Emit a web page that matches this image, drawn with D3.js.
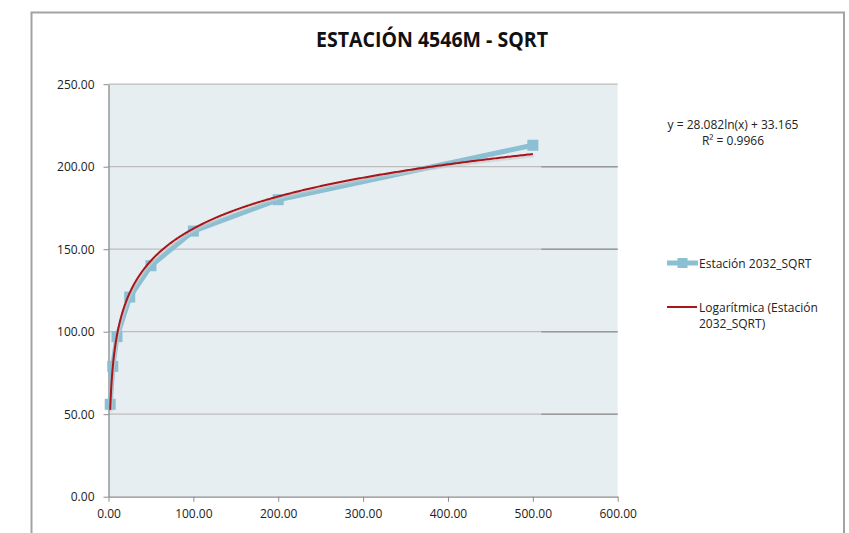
<!DOCTYPE html>
<html><head><meta charset="utf-8">
<script src="https://cdn.jsdelivr.net/npm/d3@7"></script>
<style>body{margin:0;background:#fff}svg{display:block}</style>
</head><body>
<script>
const xValues = [2, 5, 10, 25, 50, 100, 200, 500];
const yValues = [56, 79, 97, 121, 140, 161, 180, 213];
const xTicks = [0, 100, 200, 300, 400, 500, 600];
const yTicks = [0, 50, 100, 150, 200, 250];
const trendA = 28.082, trendB = 33.165;
const titleText = "ESTACIÓN 4546M - SQRT";
const eqText = "y = 28.082ln(x) + 33.165";
const r2Text = "R² = 0.9966";
const seriesName = "Estación 2032_SQRT";
const trendName = ["Logarítmica (Estación", "2032_SQRT)"];

const W = 849, H = 533;
const font = "'Open Sans',Arial,sans-serif";
const svg = d3.select("body").append("svg").attr("width", W).attr("height", H);

svg.append("rect").attr("x", 31.5).attr("y", 12.5).attr("width", 812.5).attr("height", 540)
  .attr("fill", "#fff").attr("stroke", "#a3a3a3").attr("stroke-width", 2);

const x = d3.scaleLinear().domain([0, 600]).range([108.5, 617.7]);
const y = d3.scaleLinear().domain([0, 250]).range([496.7, 84.2]);

svg.append("rect").attr("x", x(0)).attr("y", y(250)).attr("width", x(600) - x(0)).attr("height", y(0) - y(250))
  .attr("fill", "#e6eef2");

// gridlines
svg.append("g").selectAll("line").data(yTicks.filter(d => d > 0)).join("line")
  .attr("x1", x(0)).attr("x2", x(600)).attr("y1", d => y(d)).attr("y2", d => y(d))
  .attr("stroke", "#bdbdbd").attr("stroke-width", 1.2);
svg.append("g").selectAll("line").data(yTicks.filter(d => d > 0 && d < 250)).join("line")
  .attr("x1", x(510)).attr("x2", x(600)).attr("y1", d => y(d)).attr("y2", d => y(d))
  .attr("stroke", "#9a9a9a").attr("stroke-width", 1.4);

// axes
const xAxis = d3.axisBottom(x).tickValues(xTicks).tickFormat(d3.format(".2f")).tickSize(5).tickSizeOuter(0);
const gx = svg.append("g").attr("transform", `translate(0,${y(0)})`).call(xAxis);
gx.select(".domain").attr("stroke", "#8c8c8c").attr("stroke-width", 1.3);
gx.selectAll(".tick line").attr("stroke", "#8c8c8c");
gx.selectAll("text").attr("font-family", font).attr("font-size", 12).attr("fill", "#222").attr("dy", "1.15em");

const yAxis = d3.axisLeft(y).tickValues(yTicks).tickFormat(d3.format(".2f")).tickSize(5).tickSizeOuter(0);
const gy = svg.append("g").attr("transform", `translate(${x(0)},0)`).call(yAxis);
gy.select(".domain").attr("stroke", "#8c8c8c").attr("stroke-width", 1.3);
gy.selectAll(".tick line").attr("stroke", "#8c8c8c");
gy.selectAll("text").attr("font-family", font).attr("font-size", 12).attr("fill", "#222").attr("dx", "-6");

// series
const pts = xValues.map((v, i) => [v, yValues[i]]);
const blue = "#8bbfd2";
svg.append("path").datum(pts).attr("fill", "none").attr("stroke", blue).attr("stroke-width", 5)
  .attr("stroke-linejoin", "round")
  .attr("d", d3.line().x(d => x(d[0])).y(d => y(d[1])));
svg.append("g").selectAll("rect").data(pts).join("rect")
  .attr("x", d => x(d[0]) - 5.5).attr("y", d => y(d[1]) - 5.5).attr("width", 11).attr("height", 11)
  .attr("fill", blue);

// trend line
const tx = d3.range(0, 501).map(i => xValues[0] + (500 - xValues[0]) * Math.pow(i / 500, 2));
const trend = tx.map(v => [v, trendA * Math.log(v) + trendB]);
svg.append("path").datum(trend).attr("fill", "none").attr("stroke", "#c9c9c9").attr("stroke-width", 2.5)
  .attr("opacity", 0.6).attr("transform", "translate(1,2)")
  .attr("d", d3.line().x(d => x(d[0])).y(d => y(d[1])));
svg.append("path").datum(trend).attr("fill", "none").attr("stroke", "#a8151b").attr("stroke-width", 2)
  .attr("d", d3.line().x(d => x(d[0])).y(d => y(d[1])));

// title
svg.append("text").attr("x", 432).attr("y", 47).attr("text-anchor", "middle")
  .attr("font-family", font).attr("font-weight", "bold").attr("font-size", 21).attr("fill", "#111")
  .attr("textLength", 232).attr("lengthAdjust", "spacingAndGlyphs")
  .text(titleText);

// equation
svg.append("text").attr("x", 733).attr("y", 129).attr("text-anchor", "middle")
  .attr("font-family", font).attr("font-size", 12).attr("fill", "#222").text(eqText);
svg.append("text").attr("x", 733).attr("y", 145).attr("text-anchor", "middle")
  .attr("font-family", font).attr("font-size", 12).attr("fill", "#222").text(r2Text);

// legend
const lg = svg.append("g");
lg.append("line").attr("x1", 667).attr("x2", 698).attr("y1", 263).attr("y2", 263)
  .attr("stroke", blue).attr("stroke-width", 5);
lg.append("rect").attr("x", 677.5).attr("y", 258).attr("width", 10).attr("height", 10).attr("fill", blue);
lg.append("text").attr("x", 699).attr("y", 267.5).attr("font-family", font).attr("font-size", 12)
  .attr("fill", "#222").text(seriesName);
lg.append("line").attr("x1", 667).attr("x2", 697).attr("y1", 307).attr("y2", 307)
  .attr("stroke", "#a8151b").attr("stroke-width", 2);
trendName.forEach((t, i) => lg.append("text").attr("x", 699).attr("y", 311.5 + i * 16)
  .attr("font-family", font).attr("font-size", 12).attr("fill", "#222").text(t));
</script>
</body></html>
